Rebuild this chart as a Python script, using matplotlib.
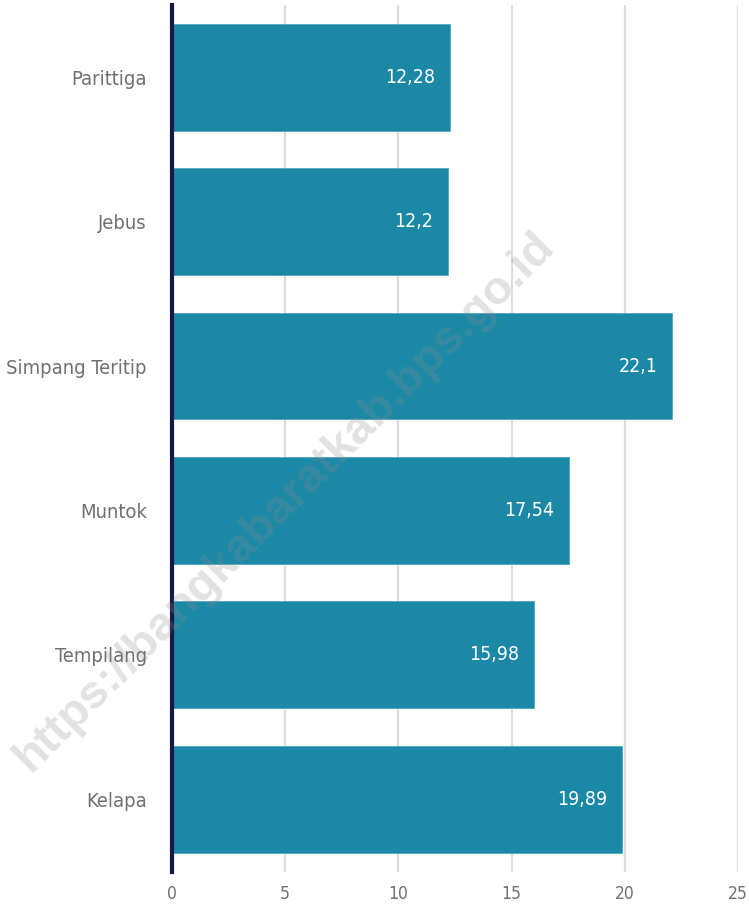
import matplotlib
matplotlib.use("Agg")
import matplotlib.pyplot as plt

# Kecamatan dan nilai
kecamatan = ["Parittiga", "Jebus", "Simpang Teritip", "Muntok", "Tempilang", "Kelapa"]
nilai = [12.28, 12.2, 22.1, 17.54, 15.98, 19.89]
x_ticks = [0, 5, 10, 15, 20, 25]

plt.rcParams['font.family'] = ['DejaVu Sans']
plt.rcParams['font.stretch'] = 'condensed'

fig = plt.figure(figsize=(7.49, 9.07), dpi=100)
ax = fig.add_axes([172 / 749, 1 - 871.5 / 907, (738 - 172) / 749, 866.5 / 907])

pos = list(range(len(kecamatan)))
bars = ax.barh(pos, nilai, height=0.74, color='#1b88a6', edgecolor='#4fa7c0',
               linewidth=0.6, zorder=2)

# label nilai di dalam batang
for bar, v in zip(bars, nilai):
    label = f"{v:g}".replace('.', ',')
    ax.text(bar.get_width() - 0.65, bar.get_y() + bar.get_height() / 2, label,
            ha='right', va='center', color='white', fontsize=14, zorder=3)

ax.set_xlim(0, 25)
ax.set_ylim(len(kecamatan) - 0.5, -0.5)
ax.set_xticks(x_ticks)
ax.set_xticklabels([str(t) for t in x_ticks])
ax.set_yticks(pos)
ax.set_yticklabels(kecamatan)

ax.grid(axis='x', color='#dcdcdc', linewidth=1.6, zorder=0)
ax.set_axisbelow(True)
for s in ['top', 'right', 'bottom']:
    ax.spines[s].set_visible(False)
ax.spines['left'].set_color('#141a45')
ax.spines['left'].set_linewidth(3)
ax.spines['left'].set_zorder(4)

ax.tick_params(axis='x', length=0, pad=10, labelsize=12.5, labelcolor='#707070')
ax.tick_params(axis='y', length=0, pad=18, labelsize=14.5, labelcolor='#707070')

# watermark
fig.text(0.380, 0.447, "https://bangkabaratkab.bps.go.id", rotation=45,
         ha='center', va='center', fontsize=34, fontweight='bold',
         family='Liberation Sans', fontstretch='normal',
         color='#8a8a8a', alpha=0.25, zorder=10)

fig.savefig("out.png", dpi=100)
